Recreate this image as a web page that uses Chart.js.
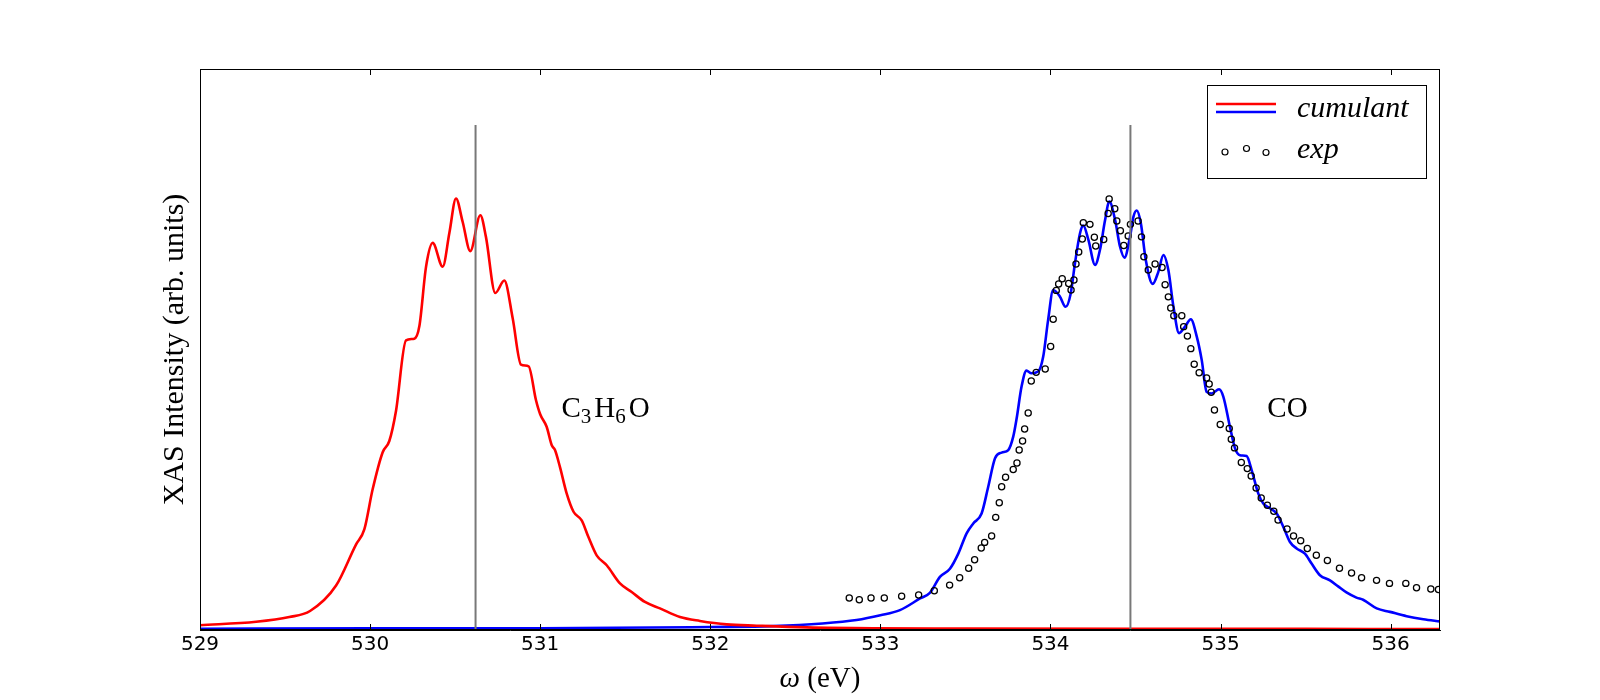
<!DOCTYPE html>
<html>
<head>
<meta charset="utf-8">
<script src="https://cdn.jsdelivr.net/npm/chart.js@4"></script>
<style>
  html, body { margin: 0; padding: 0; background: #fff; }
  #wrap { width: 1600px; height: 700px; }
</style>
</head>
<body>
<div id="wrap"><canvas id="xas" width="1600" height="700"></canvas></div>
<script>
// C3H6O cumulant spectrum (red)
const acetoneX = [529.0, 529.33, 529.525, 529.647, 529.80, 529.917, 529.966, 530.015, 530.074, 530.113,
  530.152, 530.211, 530.26, 530.29, 530.329, 530.368, 530.427, 530.466, 530.505, 530.544,
  530.589, 530.648, 530.681, 530.736, 530.789, 530.838, 530.887, 530.932, 530.975, 531.0,
  531.038, 531.068, 531.087, 531.116, 531.156, 531.196, 531.244, 531.283, 531.332, 531.391,
  531.469, 531.538, 531.616, 531.704, 531.822, 531.939, 532.096, 532.273, 532.567, 532.958,
  533.5, 534.5, 535.5, 536.29];
const acetoneY = [0.011, 0.019, 0.030, 0.044, 0.103, 0.198, 0.233, 0.326, 0.412, 0.438,
  0.507, 0.671, 0.675, 0.705, 0.842, 0.897, 0.842, 0.920, 1.000, 0.946,
  0.878, 0.961, 0.911, 0.781, 0.810, 0.723, 0.615, 0.611, 0.533, 0.500,
  0.471, 0.428, 0.417, 0.378, 0.316, 0.274, 0.254, 0.216, 0.173, 0.150,
  0.108, 0.088, 0.065, 0.050, 0.030, 0.021, 0.013, 0.010, 0.006, 0.004,
  0.0035, 0.003, 0.0025, 0.002];

// CO cumulant spectrum (blue)
const coX = [529.0, 530.0, 531.0, 532.0, 532.37, 532.66, 532.86, 533.0, 533.115, 533.233,
  533.291, 533.35, 533.409, 533.458, 533.507, 533.546, 533.595, 533.634, 533.674, 533.713,
  533.752, 533.781, 533.801, 533.83, 533.859, 533.888, 533.928, 533.957, 533.986, 534.016,
  534.055, 534.089, 534.119, 534.144, 534.174, 534.193, 534.223, 534.262, 534.291, 534.321,
  534.346, 534.38, 534.409, 534.435, 534.468, 534.488, 534.507, 534.531, 534.56, 534.601,
  534.634, 534.664, 534.693, 534.723, 534.756, 534.791, 534.825, 534.86, 534.889, 534.918,
  534.948, 534.991, 535.016, 535.055, 535.085, 535.114, 535.153, 535.183, 535.222, 535.251,
  535.29, 535.33, 535.369, 535.408, 535.447, 535.496, 535.535, 535.584, 535.643, 535.691,
  535.74, 535.799, 535.838, 535.918, 535.996, 536.094, 536.192, 536.29];
const coY = [0.003, 0.004, 0.004, 0.007, 0.009, 0.015, 0.023, 0.034, 0.046, 0.073,
  0.086, 0.123, 0.142, 0.177, 0.224, 0.247, 0.270, 0.332, 0.398, 0.411,
  0.417, 0.448, 0.490, 0.564, 0.601, 0.595, 0.599, 0.633, 0.718, 0.788,
  0.773, 0.749, 0.780, 0.850, 0.920, 0.937, 0.904, 0.846, 0.881, 0.950,
  0.993, 0.950, 0.888, 0.863, 0.912, 0.958, 0.972, 0.943, 0.858, 0.802,
  0.830, 0.869, 0.834, 0.749, 0.688, 0.703, 0.720, 0.680, 0.626, 0.552,
  0.548, 0.558, 0.541, 0.471, 0.421, 0.405, 0.403, 0.370, 0.316, 0.293,
  0.282, 0.270, 0.239, 0.204, 0.189, 0.177, 0.154, 0.127, 0.115, 0.101,
  0.087, 0.075, 0.070, 0.050, 0.042, 0.032, 0.025, 0.020];

// experiment (open circles)
const expX = [532.817, 532.876, 532.945, 533.023, 533.125, 533.225, 533.317, 533.407, 533.466, 533.519,
  533.554, 533.593, 533.613, 533.654, 533.678, 533.699, 533.713, 533.736, 533.781, 533.803,
  533.816, 533.836, 533.848, 533.869, 533.887, 533.916, 533.969, 534.001, 534.016, 534.034,
  534.048, 534.069, 534.107, 534.121, 534.138, 534.15, 534.166, 534.187, 534.193, 534.232,
  534.258, 534.266, 534.313, 534.339, 534.345, 534.378, 534.39, 534.411, 534.431, 534.457,
  534.47, 534.515, 534.535, 534.549, 534.575, 534.615, 534.656, 534.674, 534.693, 534.707,
  534.725, 534.772, 534.783, 534.805, 534.825, 534.845, 534.874, 534.918, 534.933, 534.945,
  534.964, 534.998, 535.051, 535.063, 535.082, 535.122, 535.157, 535.18, 535.209, 535.239,
  535.275, 535.313, 535.338, 535.391, 535.429, 535.471, 535.51, 535.563, 535.628, 535.699,
  535.77, 535.829, 535.917, 535.993, 536.089, 536.152, 536.236, 536.281];
const expY = [0.074, 0.070, 0.074, 0.074, 0.078, 0.081, 0.091, 0.104, 0.121, 0.143,
  0.163, 0.190, 0.203, 0.218, 0.261, 0.295, 0.332, 0.354, 0.372, 0.387,
  0.417, 0.438, 0.466, 0.503, 0.577, 0.597, 0.605, 0.657, 0.720, 0.787,
  0.802, 0.814, 0.803, 0.788, 0.811, 0.848, 0.876, 0.906, 0.944, 0.940,
  0.910, 0.890, 0.905, 0.965, 0.999, 0.976, 0.948, 0.925, 0.891, 0.913,
  0.940, 0.948, 0.911, 0.865, 0.834, 0.848, 0.840, 0.800, 0.772, 0.746,
  0.728, 0.728, 0.703, 0.681, 0.652, 0.616, 0.596, 0.584, 0.570, 0.551,
  0.510, 0.476, 0.467, 0.442, 0.422, 0.388, 0.374, 0.357, 0.329, 0.306,
  0.289, 0.275, 0.255, 0.234, 0.218, 0.207, 0.189, 0.173, 0.161, 0.143,
  0.132, 0.121, 0.115, 0.108, 0.108, 0.098, 0.095, 0.094];

// vertical reference lines and their height
const markX = [530.62, 534.47];
const markTop = 1.17;

const xTicks = [529, 530, 531, 532, 533, 534, 535, 536];

// molecule labels: [parts, x, y]  (parts: [text, isSubscript])
const molLabels = [
  [[['C', 0], ['3', 1], ['H', 0], ['6', 1], ['O', 0]], 531.125, 0.494],
  [[['C', 0], ['O', 0]], 535.275, 0.494]
];

const pts = (xs, ys) => xs.map((x, i) => ({ x, y: ys[i] }));
const SERIF = '"Liberation Serif", "Times New Roman", serif';

Chart.defaults.font.family = 'DejaVu Sans';

const decor = {
  id: 'decor',
  afterDatasetsDraw(chart) {
    const { ctx, chartArea: a, scales: { x, y } } = chart;
    ctx.save();
    // inward ticks on top and bottom
    ctx.strokeStyle = '#000';
    ctx.lineWidth = 1;
    ctx.beginPath();
    xTicks.forEach(v => {
      const px = Math.round(x.getPixelForValue(v)) + 0.5;
      ctx.moveTo(px, a.bottom); ctx.lineTo(px, a.bottom - 6);
      ctx.moveTo(px, a.top); ctx.lineTo(px, a.top + 6);
    });
    ctx.stroke();
    ctx.strokeRect(a.left + 0.5, a.top + 0.5, a.right - a.left - 1, a.bottom - a.top - 1);

    // molecule labels
    ctx.fillStyle = '#000';
    ctx.textBaseline = 'alphabetic';
    ctx.textAlign = 'left';
    molLabels.forEach(([parts, lx, ly]) => {
      let cx = x.getPixelForValue(lx);
      const cy = y.getPixelForValue(ly);
      parts.forEach(([t, sub]) => {
        ctx.font = (sub ? '21px ' : '29px ') + SERIF;
        ctx.fillText(t, cx, sub ? cy + 6 : cy);
        cx += ctx.measureText(t).width + (sub ? 3 : 0);
      });
    });

    // x axis label: italic omega + (eV)
    ctx.font = 'italic 29px ' + SERIF;
    const w1 = ctx.measureText('ω').width;
    ctx.font = '29px ' + SERIF;
    const w2 = ctx.measureText(' (eV)').width;
    const sx = (a.left + a.right) / 2 - (w1 + w2) / 2;
    ctx.font = 'italic 29px ' + SERIF;
    ctx.fillText('ω', sx, 687);
    ctx.font = '29px ' + SERIF;
    ctx.fillText(' (eV)', sx + w1, 687);

    // legend
    const lx = a.right - 233, ly = a.top + 16;
    ctx.fillStyle = '#fff';
    ctx.fillRect(lx, ly, 219, 93);
    ctx.strokeStyle = '#000';
    ctx.strokeRect(lx + 0.5, ly + 0.5, 219, 93);
    ctx.lineWidth = 2.5;
    ctx.strokeStyle = '#ff0000';
    ctx.beginPath(); ctx.moveTo(lx + 9, ly + 19); ctx.lineTo(lx + 69, ly + 19); ctx.stroke();
    ctx.strokeStyle = '#0000ff';
    ctx.beginPath(); ctx.moveTo(lx + 9, ly + 27); ctx.lineTo(lx + 69, ly + 27); ctx.stroke();
    ctx.lineWidth = 1.2;
    ctx.strokeStyle = '#000';
    [[18, 67], [39.5, 63.5], [59, 67.5]].forEach(([ox, oy]) => {
      ctx.beginPath(); ctx.arc(lx + ox, ly + oy, 3, 0, Math.PI * 2); ctx.stroke();
    });
    ctx.fillStyle = '#000';
    ctx.font = 'italic 30px ' + SERIF;
    ctx.fillText('cumulant', lx + 90, ly + 32);
    ctx.fillText('exp', lx + 90, ly + 73);
    ctx.restore();
  }
};

new Chart(document.getElementById('xas'), {
  type: 'line',
  data: {
    datasets: [
      ...markX.map(v => ({
        data: [{ x: v, y: 0 }, { x: v, y: markTop }],
        borderColor: '#787878', borderWidth: 2, pointRadius: 0, tension: 0, order: 1
      })),
      {
        label: 'exp', data: pts(expX, expY), showLine: false,
        pointRadius: 3.1, pointBorderWidth: 1.25, pointBorderColor: '#000',
        pointBackgroundColor: 'rgba(0,0,0,0)', order: 2
      },
      {
        label: 'cumulant C3H6O', data: pts(acetoneX, acetoneY),
        borderColor: '#ff0000', borderWidth: 2.6, pointRadius: 0,
        cubicInterpolationMode: 'monotone', order: 3
      },
      {
        label: 'cumulant CO', data: pts(coX, coY),
        borderColor: '#0000ff', borderWidth: 2.6, pointRadius: 0,
        cubicInterpolationMode: 'monotone', order: 4
      }
    ]
  },
  options: {
    responsive: false,
    animation: false,
    devicePixelRatio: 1,
    layout: { padding: { left: 0, top: 69, right: 160, bottom: 0 } },
    plugins: { legend: { display: false }, tooltip: { enabled: false } },
    scales: {
      x: {
        type: 'linear', min: 529, max: 536.29,
        afterFit: s => { s.height = 70; },
        afterBuildTicks: s => { s.ticks = xTicks.map(v => ({ value: v })); },
        grid: { display: false, drawTicks: false },
        border: { display: true, color: '#000', width: 1 },
        ticks: {
          color: '#000', font: { family: 'DejaVu Sans', size: 20 }, padding: 3,
          maxRotation: 0, autoSkip: false, callback: v => String(v)
        }
      },
      y: {
        min: 0, max: 1.3,
        afterFit: s => { s.width = 200; },
        grid: { display: false, drawTicks: false },
        border: { display: true, color: '#000', width: 1 },
        ticks: { display: false },
        title: {
          display: true, text: 'XAS Intensity (arb. units)', color: '#000',
          font: { family: 'Liberation Serif', size: 30 }, padding: { top: 157, bottom: 0 }
        }
      }
    }
  },
  plugins: [decor]
});
</script>
</body>
</html>
